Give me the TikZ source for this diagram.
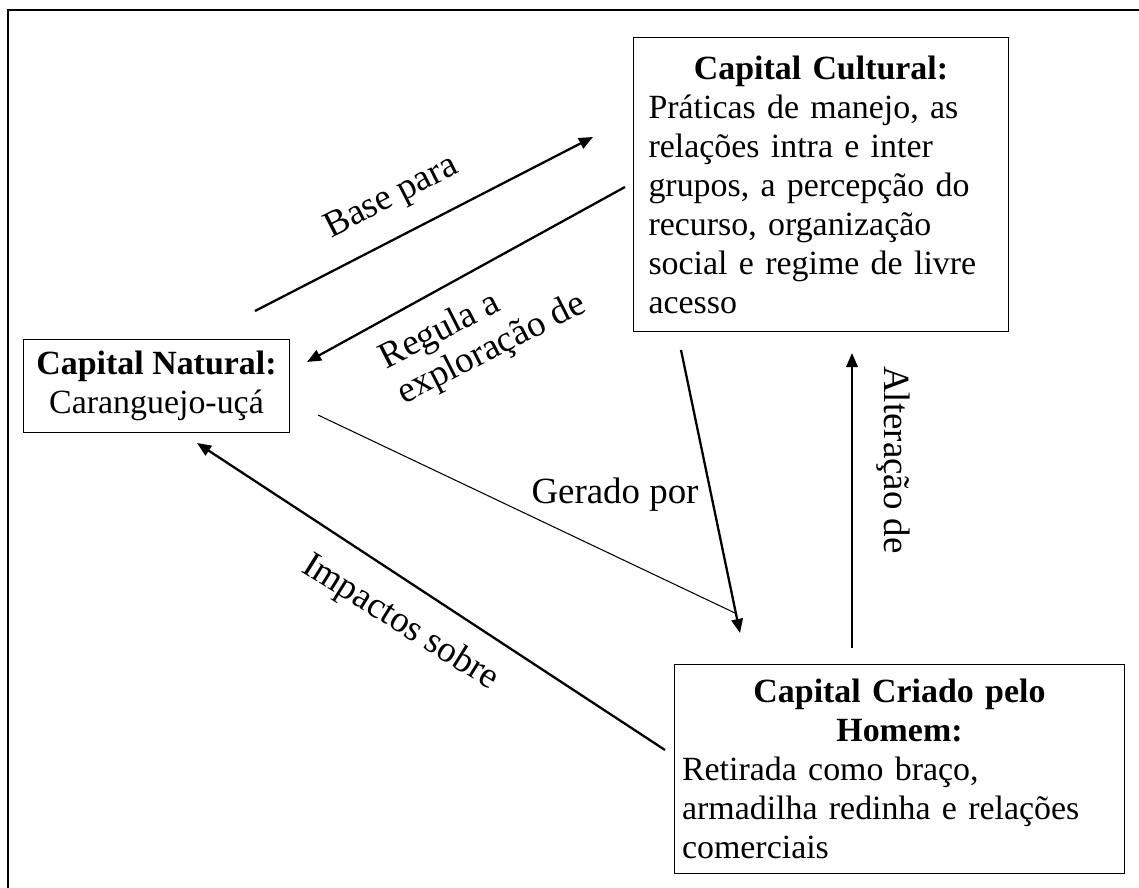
\documentclass[tikz,border=0pt]{standalone}
\usepackage{fontspec}
\setmainfont{Liberation Serif}
\usetikzlibrary{arrows.meta}

\begin{document}
\begin{tikzpicture}[x=0.02cm,y=-0.02cm]
\tikzset{capbox/.style = {draw=black, line width=0.6pt, anchor=north west, inner ysep=0pt, align=left, font=\fontsize{19.3}{22.2}\selectfont}}
\tikzset{lbl/.style = {inner sep=0pt, align=center, font=\fontsize{21}{22.5}\selectfont}}
\tikzset{flow/.style = {line width=1.3pt, -{Triangle[length=8pt,width=6.5pt]}}}
\useasboundingbox (0,0) rectangle (1139,888);
\clip (0,0) rectangle (1139,888);
\draw[line width=0.8pt] (8,10) rectangle (1160,910);

    \node[capbox, text width=6.9cm, inner xsep=0.3cm, minimum height=5.88cm] (cult) at (633,37)
      {{\centering\bfseries Capital Cultural:\par}Práticas de manejo, as\\ relações intra e inter\\ grupos, a percepção do\\ recurso, organização\\ social e regime de livre\\ acesso};
    \node[capbox, minimum width=5.32cm, minimum height=1.86cm, align=center] (nat) at (23,339)
      {\textbf{Capital Natural:}\\Caranguejo-uçá};
    \node[capbox, text width=8.7cm, inner xsep=0.15cm, minimum height=4.18cm] (criado) at (674,664)
      {{\centering\bfseries Capital Criado pelo\\ Homem:\par}Retirada como braço,\\ armadilha redinha e relações\\ comerciais};

\coordinate (baseA) at (255,311);
\coordinate (baseB) at (593,137);
\coordinate (regA) at (625,187);
\coordinate (regB) at (307,362);
\coordinate (gerA) at (681,350);
\coordinate (gerB) at (740,633);
\coordinate (thinA) at (318,415);
\coordinate (thinB) at (735,613);
\coordinate (impA) at (665,750);
\coordinate (impB) at (197,443);
\coordinate (altA) at (852,648);
\coordinate (altB) at (852,353);

\draw[flow] (baseA)--(baseB);
\draw[flow] (regA)--(regB);
\draw[flow] (gerA)--(gerB);
\draw[line width=0.6pt] (thinA)--(thinB);
\draw[flow] (impA)--(impB);
\draw[flow] (altA)--(altB);

    \node[lbl, rotate=27] (base) at (392,198) {Base para};
    \node[lbl, rotate=27, align=left] (regula) at (483,332) {Regula a\\exploração de};
    \node[lbl] (gerado) at (615,495) {Gerado por};
    \node[lbl, rotate=-32] (impact) at (400,623) {Impactos sobre};
    \node[lbl, rotate=-90] (alter) at (893,460) {Alteração de};

\end{tikzpicture}
\end{document}
